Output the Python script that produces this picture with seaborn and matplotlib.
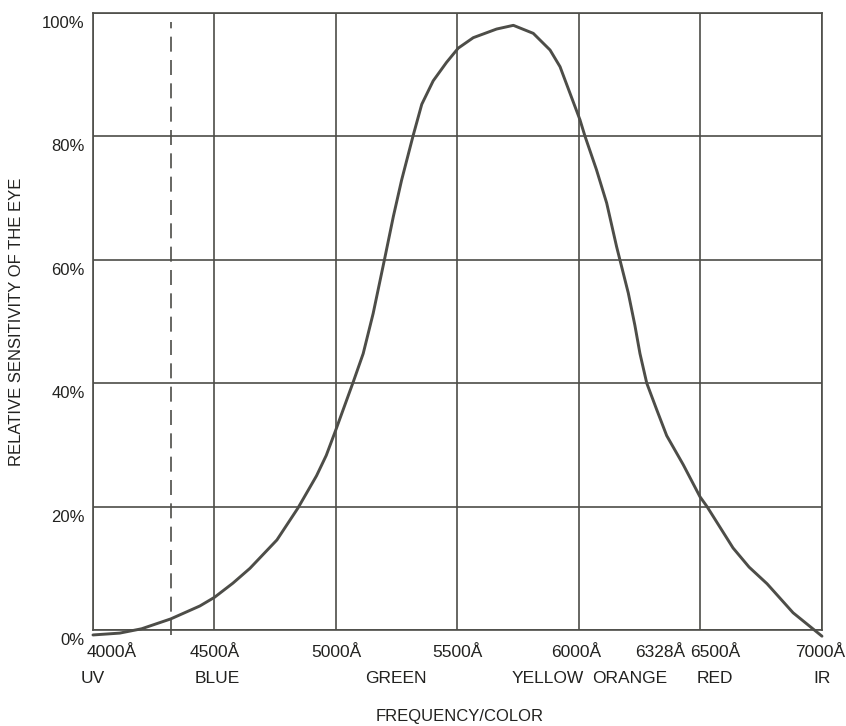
import numpy as np
import pandas as pd
import matplotlib
matplotlib.use("Agg")
import matplotlib.pyplot as plt
import matplotlib.transforms as mtransforms
import seaborn as sns

# wavelength (Angstrom) vs relative sensitivity (%)
WAVELENGTH = [4000, 4110, 4200, 4320, 4440, 4500, 4576, 4646, 4757, 4844,
              4920, 4960, 5000, 5071, 5112, 5153, 5202, 5236, 5270, 5318,
              5353, 5400, 5455, 5503, 5565, 5661, 5730, 5812, 5881, 5922,
              5963, 6004, 6025, 6072, 6114, 6155, 6203, 6230, 6251, 6279,
              6320, 6361, 6429, 6498, 6527, 6634, 6700, 6774, 6881, 7000]
SENSITIVITY = [-0.8, -0.5, 0.2, 1.8, 3.9, 5.3, 7.6, 10.0, 14.6, 19.8,
               25.0, 28.3, 32.5, 40.2, 44.8, 51.3, 60.5, 67.0, 72.9, 80.2,
               85.2, 89.0, 92.0, 94.3, 96.0, 97.4, 98.0, 96.7, 94.0, 91.3,
               87.0, 82.7, 80.0, 74.6, 69.2, 62.1, 54.6, 49.4, 44.8, 40.0,
               35.7, 31.5, 26.8, 21.6, 20.0, 13.3, 10.2, 7.5, 2.8, -1.0]

GRID_X = [4000, 4500, 5000, 5500, 6000, 6500, 7000]
GRID_Y = [0, 20, 40, 60, 80, 100]
Y_LABELS = ["0%", "20%", "40%", "60%", "80%", "100%"]
DASHED_X = 4320

WAVE_LABELS = ["4000Å", "4500Å", "5000Å", "5500Å", "6000Å", "6328Å", "6500Å", "7000Å"]
WAVE_LABEL_X = [4078, 4500, 5000, 5500, 5990, 6333, 6560, 6993]
COLOR_LABELS = ["UV", "BLUE", "GREEN", "YELLOW", "ORANGE", "RED", "IR"]
COLOR_LABEL_X = [4000, 4510, 5247, 5872, 6210, 6560, 7000]

INK = "#4d4d48"
TEXT = "#222220"

sns.set_style("white")
plt.rcParams["font.family"] = ["Liberation Sans", "DejaVu Sans"]

df = pd.DataFrame({"wavelength": WAVELENGTH, "sensitivity": SENSITIVITY})

fig = plt.figure(figsize=(8.46, 7.26), dpi=100)
ax = fig.add_axes([0.1099, 0.1322, 0.8617, 0.8499])

for x in GRID_X:
    ax.axvline(x, color=INK, lw=1.2, zorder=1)
for y in GRID_Y:
    ax.axhline(y, color=INK, lw=1.2, zorder=1)
ax.axvline(DASHED_X, ymin=-0.008, ymax=0.985, color=INK, lw=1.2,
           dashes=(9, 5), zorder=1, clip_on=False)

sns.lineplot(data=df, x="wavelength", y="sensitivity", ax=ax, color=INK,
             lw=2.1, zorder=3, clip_on=False)

ax.set_xlim(4000, 7000)
ax.set_ylim(0, 100)
for s in ax.spines.values():
    s.set_color(INK)
    s.set_linewidth(1.2)

ax.set_xticks([])
ax.set_yticks(GRID_Y)
ax.set_yticklabels(Y_LABELS, fontsize=12, color=TEXT)
ax.tick_params(axis="y", length=0, pad=6)
# labels sit a little below their grid lines in the original
offset = mtransforms.ScaledTranslation(0, -0.09, fig.dpi_scale_trans)
for lab in ax.get_yticklabels():
    lab.set_transform(lab.get_transform() + offset)

tr = ax.get_xaxis_transform()
for x, t in zip(WAVE_LABEL_X, WAVE_LABELS):
    ax.text(x, -0.037, t, transform=tr, ha="center", va="center",
            fontsize=12.5, color=TEXT)
for x, t in zip(COLOR_LABEL_X, COLOR_LABELS):
    ax.text(x, -0.078, t, transform=tr, ha="center", va="center",
            fontsize=12.5, color=TEXT)

ax.set_xlabel("")
ax.set_ylabel("")
fig.text(460 / 846, 1 - 717 / 726, "FREQUENCY/COLOR", ha="center", va="center",
         fontsize=12, color=TEXT)
fig.text(17 / 846, 1 - 322 / 726, "RELATIVE SENSITIVITY OF THE EYE", rotation=90,
         ha="center", va="center", fontsize=12, color=TEXT)

fig.savefig("out.png", dpi=100, facecolor="white")
